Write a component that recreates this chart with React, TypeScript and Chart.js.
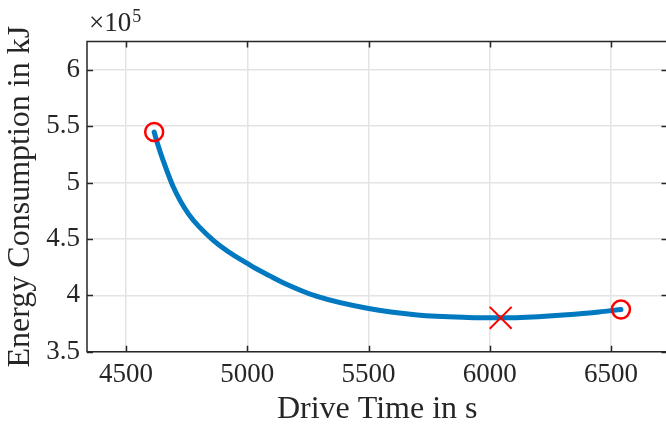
import React, { useEffect, useRef } from "react";
import { Chart, registerables } from "chart.js";

Chart.register(...registerables);

// Drive time (s) and energy consumption (kJ) along the trade-off curve
const driveTime = [4616, 4630, 4654, 4696, 4758, 4861, 5013, 5095, 5150, 5288, 5495, 5701, 5908, 6043, 6200, 6350, 6450, 6541];
const energy = [544800, 534500, 519000, 495600, 472000, 448600, 426500, 417000, 411000, 399000, 388500, 382600, 380400, 380000, 381100, 383200, 385200, 387400];

// Endpoints (red circles) and optimum (red cross)
const endpointTime = [4616, 6541];
const endpointEnergy = [544800, 387400];
const optimumTime = [6045];
const optimumEnergy = [380000];

// Tick values
const xTicks = [4500, 5000, 5500, 6000, 6500];
const yTicks = [350000, 400000, 450000, 500000, 550000, 600000];

const xLabel = "Drive Time in s";
const yLabel = "Energy Consumption in kJ";
const X_MIN = 4339;
const X_MAX = 6733;
const Y_MIN = 350000;
const Y_MAX = 625000;
const EXPONENT = 5;

const FONT = '"Liberation Serif", "Times New Roman", serif';
const INK = "#262626";

const boxPlugin = {
  id: "matlabBox",
  afterDraw(chart: any) {
    const { ctx, chartArea } = chart;
    const { left, right, top, bottom } = chartArea;
    const xs = chart.scales.x;
    const ys = chart.scales.y;
    ctx.save();
    ctx.strokeStyle = INK;
    ctx.lineWidth = 1.5;
    ctx.beginPath();
    ctx.rect(left, top, right - left, bottom - top);
    const tl = 6;
    xs.ticks.forEach((t: any) => {
      const px = Math.round(xs.getPixelForValue(t.value)) + 0.5;
      ctx.moveTo(px, bottom);
      ctx.lineTo(px, bottom - tl);
      ctx.moveTo(px, top);
      ctx.lineTo(px, top + tl);
    });
    ys.ticks.forEach((t: any) => {
      const py = Math.round(ys.getPixelForValue(t.value)) + 0.5;
      ctx.moveTo(left, py);
      ctx.lineTo(left + tl, py);
      ctx.moveTo(right, py);
      ctx.lineTo(right - tl, py);
    });
    ctx.stroke();

    ctx.fillStyle = INK;
    ctx.textAlign = "left";
    ctx.textBaseline = "alphabetic";
    ctx.font = `27px ${FONT}`;
    const base = "\u00d710";
    ctx.fillText(base, left + 2, top - 11);
    const w = ctx.measureText(base).width;
    ctx.font = `18px ${FONT}`;
    ctx.fillText(String(EXPONENT), left + 2 + w + 1, top - 20);
    ctx.restore();
  },
};

export default function App() {
  const ref = useRef<HTMLCanvasElement | null>(null);

  useEffect(() => {
    if (!ref.current) return;
    const curve = driveTime.map((t, i) => ({ x: t, y: energy[i] }));
    const ends = endpointTime.map((t, i) => ({ x: t, y: endpointEnergy[i] }));
    const opt = optimumTime.map((t, i) => ({ x: t, y: optimumEnergy[i] }));

    const chart = new Chart(ref.current, {
      type: "line",
      data: {
        datasets: [
          {
            data: ends,
            showLine: false,
            pointStyle: "circle",
            pointRadius: 9,
            pointBorderWidth: 2.5,
            pointBorderColor: "#ff0000",
            pointBackgroundColor: "rgba(0,0,0,0)",
            order: 0,
          },
          {
            data: opt,
            showLine: false,
            pointStyle: "crossRot",
            pointRadius: 15.5,
            pointBorderWidth: 2,
            pointBorderColor: "#ff0000",
            pointBackgroundColor: "rgba(0,0,0,0)",
            order: 1,
          },
          {
            data: curve,
            borderColor: "#0079C1",
            borderWidth: 5,
            borderCapStyle: "round",
            borderJoinStyle: "round",
            pointRadius: 0,
            cubicInterpolationMode: "monotone",
            fill: false,
            order: 2,
          },
        ],
      },
      options: {
        responsive: false,
        animation: false,
        devicePixelRatio: 1,
        layout: { autoPadding: false, padding: { left: 0, top: 41.6, right: 2.5, bottom: 0 } },
        plugins: {
          legend: { display: false },
          tooltip: { enabled: false },
        },
        scales: {
          x: {
            type: "linear",
            min: X_MIN,
            max: X_MAX,
            afterBuildTicks: (s: any) => {
              s.ticks = xTicks.map((v) => ({ value: v }));
            },
            afterFit: (s: any) => {
              s.height = 73.3;
              s.paddingLeft = 0;
              s.paddingRight = 0;
            },
            ticks: {
              autoSkip: false,
              maxRotation: 0,
              padding: 7,
              color: INK,
              font: { family: FONT, size: 27 },
              callback: (v: any) => String(v),
            },
            grid: { color: "#e4e4e4", lineWidth: 1.5, drawTicks: false },
            border: { display: false },
            title: {
              display: true,
              text: xLabel,
              color: INK,
              font: { family: FONT, size: 32, lineHeight: 1 },
              padding: { top: 0, bottom: -1 },
            },
          },
          y: {
            type: "linear",
            min: Y_MIN,
            max: Y_MAX,
            afterBuildTicks: (s: any) => {
              s.ticks = yTicks.map((v) => ({ value: v }));
            },
            afterFit: (s: any) => {
              s.width = 87;
              s.paddingTop = 0;
              s.paddingBottom = 0;
            },
            ticks: {
              autoSkip: false,
              padding: 7,
              color: INK,
              font: { family: FONT, size: 27 },
              callback: (v: any) => String(Math.round(Number(v) / Math.pow(10, EXPONENT - 1)) / 10),
            },
            grid: { color: "#e4e4e4", lineWidth: 1.5, drawTicks: false },
            border: { display: false },
            title: {
              display: true,
              text: yLabel,
              color: INK,
              font: { family: FONT, size: 32, lineHeight: 1 },
              padding: { top: 5, bottom: 0 },
            },
          },
        },
      },
      plugins: [boxPlugin],
    });
    return () => chart.destroy();
  }, []);

  return (
    <div style={{ position: "absolute", left: 0, top: 0, width: 666, height: 425, overflow: "hidden", background: "#fff" }}>
      <canvas ref={ref} width={670} height={425} style={{ display: "block", width: 670, height: 425 }} />
    </div>
  );
}
